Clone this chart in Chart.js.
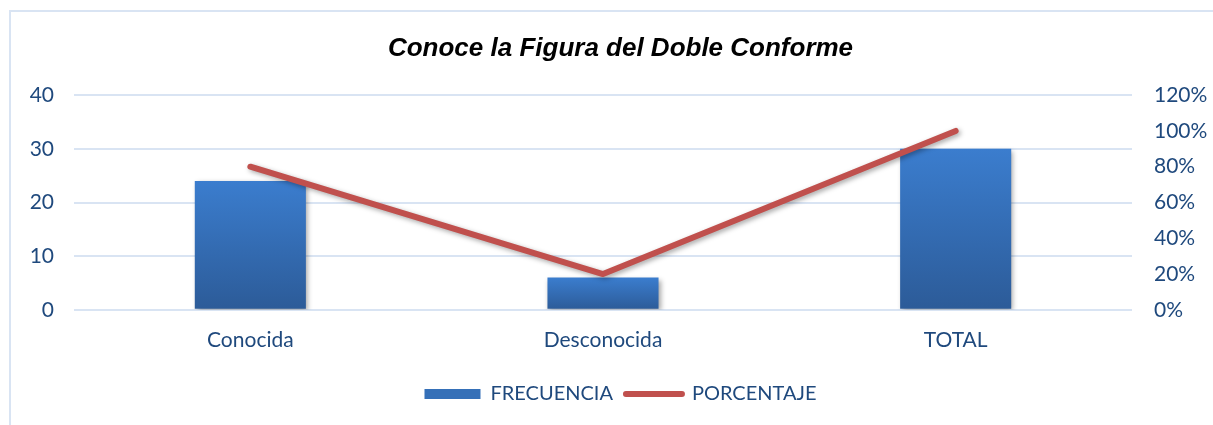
<!DOCTYPE html>
<html>
<head>
<meta charset="utf-8">
<script src="https://cdn.jsdelivr.net/npm/chart.js@4"></script>
<style>
  html, body { margin: 0; padding: 0; background: #fff; }
  #wrap { position: relative; width: 1213px; height: 425px; }
</style>
</head>
<body>
<div id="wrap"><canvas id="chart" width="1213" height="425"></canvas></div>
<script>
const categories = ['Conocida', 'Desconocida', 'TOTAL'];
const frecuencia = [24, 6, 30];
const porcentaje = [0.8, 0.2, 1.0];

const textColor = '#1F497D';
const gridColor = '#D9E4F3';

// light frame round the chart (top and left edges only show)
const framePlugin = {
  id: 'frame',
  beforeDraw(chart) {
    const ctx = chart.ctx;
    ctx.save();
    ctx.strokeStyle = gridColor;
    ctx.lineWidth = 2;
    ctx.beginPath();
    ctx.moveTo(10, 426);
    ctx.lineTo(10, 11);
    ctx.lineTo(1214, 11);
    ctx.stroke();
    ctx.restore();
  }
};

// soft shadow under bars and line
const shadowPlugin = {
  id: 'shadow',
  beforeDatasetDraw(chart) {
    const ctx = chart.ctx;
    ctx.save();
    ctx.shadowColor = 'rgba(0,0,0,0.35)';
    ctx.shadowBlur = 5;
    ctx.shadowOffsetX = 2;
    ctx.shadowOffsetY = 2;
  },
  afterDatasetDraw(chart) {
    chart.ctx.restore();
  }
};

function barGradient(context) {
  const chart = context.chart;
  if (!chart.chartArea || context.raw == null) return '#3570B8';
  const y = chart.scales.y;
  const top = y.getPixelForValue(context.raw);
  const bottom = y.getPixelForValue(0);
  if (!isFinite(top) || !isFinite(bottom) || top === bottom) return '#3570B8';
  const g = chart.ctx.createLinearGradient(0, top, 0, bottom);
  g.addColorStop(0, '#3B7DCE');
  g.addColorStop(1, '#2C5B98');
  return g;
}

const tickFont = { family: 'Lato', size: 21 };

new Chart(document.getElementById('chart'), {
  data: {
    labels: categories,
    datasets: [
      {
        type: 'line',
        label: 'PORCENTAJE',
        data: porcentaje,
        yAxisID: 'y1',
        borderColor: '#C0504D',
        backgroundColor: '#C0504D',
        borderWidth: 6,
        borderCapStyle: 'round',
        borderJoinStyle: 'round',
        pointRadius: 0,
        tension: 0,
        order: 0
      },
      {
        type: 'bar',
        label: 'FRECUENCIA',
        data: frecuencia,
        yAxisID: 'y',
        backgroundColor: barGradient,
        categoryPercentage: 1,
        barPercentage: 0.315,
        order: 1
      }
    ]
  },
  options: {
    responsive: false,
    animation: false,
    layout: { padding: { top: 33, bottom: 11, left: 28, right: 0 } },
    plugins: {
      title: {
        display: true,
        text: 'Conoce la Figura del Doble Conforme',
        color: '#000',
        font: { family: 'Liberation Sans', size: 26, style: 'italic', weight: 'bold' },
        padding: { top: 0, bottom: 31 }
      },
      legend: {
        position: 'bottom',
        labels: {
          color: textColor,
          font: { family: 'Lato', size: 20 },
          usePointStyle: true,
          pointStyleWidth: 56,
          boxHeight: 10,
          padding: 13,
          generateLabels() {
            return [
              { text: 'FRECUENCIA', fillStyle: '#3570B8', strokeStyle: 'rgba(0,0,0,0)', lineWidth: 0, pointStyle: 'rect', fontColor: textColor },
              { text: 'PORCENTAJE', fillStyle: '#C0504D', strokeStyle: '#C0504D', lineWidth: 6, lineCap: 'round', pointStyle: 'line', fontColor: textColor }
            ];
          }
        }
      },
      tooltip: { enabled: false }
    },
    scales: {
      x: {
        grid: { display: false, drawTicks: false },
        border: { display: false },
        ticks: { color: textColor, font: tickFont, padding: 18 }
      },
      y: {
        position: 'left',
        min: 0,
        max: 40,
        grid: { color: gridColor, lineWidth: 2, drawTicks: false },
        border: { display: false },
        ticks: { stepSize: 10, color: textColor, font: tickFont, padding: 20 },
        afterFit(scale) { scale.width = 46; }
      },
      y1: {
        position: 'right',
        min: 0,
        max: 1.2,
        grid: { display: false, drawTicks: false },
        border: { display: false },
        ticks: {
          stepSize: 0.2,
          color: textColor,
          font: tickFont,
          padding: 22,
          callback: v => Math.round(v * 100) + '%'
        },
        afterFit(scale) { scale.width = 81; }
      }
    }
  },
  plugins: [framePlugin, shadowPlugin]
});
</script>
</body>
</html>
